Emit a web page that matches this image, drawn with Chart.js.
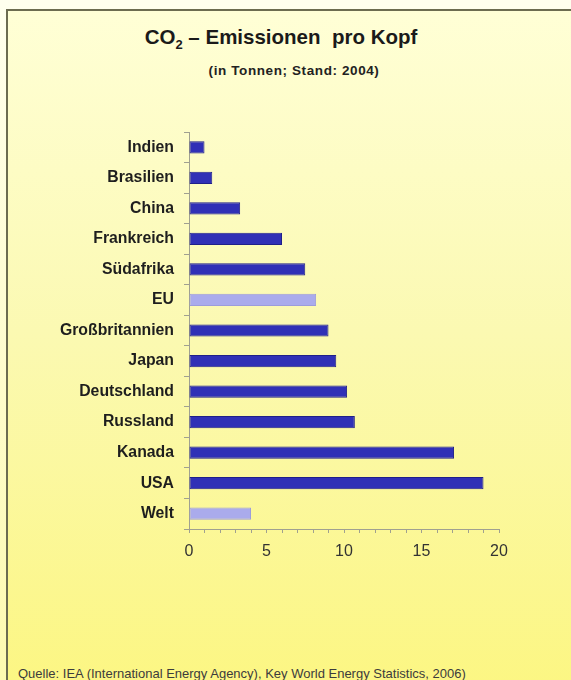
<!DOCTYPE html>
<html>
<head>
<meta charset="utf-8">
<script src="https://cdn.jsdelivr.net/npm/chart.js@4"></script>
<style>
  html, body { margin:0; padding:0; overflow:hidden; background:#ffffee; }
  #wrap { position:relative; width:571px; height:680px; overflow:hidden;
          background:linear-gradient(#ffffee, #fdfab0); font-family:Arial, "Liberation Sans", sans-serif; }
  #frame { position:absolute; left:6px; top:9px; right:-40px; bottom:-40px;
           border-left:2px solid #6c6c50; border-top:2px solid #6c6c50;
           background:linear-gradient(#ffffd6 0%, #fbf9b2 45%, #fcf67e 100%); }
  #title { position:absolute; left:0; top:27px; width:562px; text-align:center;
           font-size:20.5px; line-height:20px; font-weight:bold; color:#1a1a1a; }
  #title sub { font-size:13px; line-height:0; vertical-align:-5px; }
  #sub { position:absolute; left:0; top:64px; width:588px; text-align:center;
         font-size:13.5px; line-height:14px; font-weight:bold; color:#222; letter-spacing:0.6px; }
  #src { position:absolute; left:18px; top:667px; font-size:13px; line-height:14px; color:#3c3c3c; white-space:nowrap; }
  #Plot { position:absolute; left:0; top:0; }
</style>
</head>
<body>
<div id="wrap">
<div id="frame"></div>
<div id="title">CO<sub>2</sub> – Emissionen&nbsp; pro Kopf</div>
<div id="sub">(in Tonnen; Stand: 2004)</div>
<div id="src">Quelle: IEA (International Energy Agency), Key World Energy Statistics, 2006)</div>
<canvas id="Plot" width="571" height="680"></canvas>
</div>
<script>
// Tonnen CO2 pro Kopf, 2004
var laender = ['Indien','Brasilien','China','Frankreich','Südafrika','EU','Großbritannien',
               'Japan','Deutschland','Russland','Kanada','USA','Welt'];
var werte = [1.0, 1.5, 3.3, 6.0, 7.5, 8.2, 9.0, 9.5, 10.2, 10.7, 17.1, 19.0, 4.0];
var hervorgehoben = ['EU','Welt'];
var xMin = 0, xMax = 20, xStep = 1, labelStep = 5;

var dunkel = '#3030b6', hell = '#aaabec';
var farben = laender.map(l => hervorgehoben.includes(l) ? hell : dunkel);
var rahmen = laender.map(l => hervorgehoben.includes(l) ? '#9c9cdc' : '#1f1f8a');

var ctx = document.getElementById("Plot").getContext('2d');

var myChart = new Chart(ctx, {
  type: 'bar',
  data: {
    labels: laender,
    datasets: [{
      data: werte,
      backgroundColor: farben,
      borderColor: rahmen,
      borderWidth: 1,
      borderSkipped: false,
      barPercentage: 0.4,
      categoryPercentage: 1
    }]
  },
  options: {
    indexAxis: 'y',
    responsive: false,
    animation: false,
    layout: { padding: { left: 0, top: 132, right: 72, bottom: 121 } },
    plugins: { legend: { display: false }, tooltip: { enabled: false } },
    scales: {
      y: {
        afterFit: function(s){ s.width = 189; },
        grid: { drawOnChartArea: false, offset: true, tickLength: 5, color: '#a0a090' },
        border: { color: '#a0a090' },
        ticks: { padding: 10, color: '#1e1e1e',
                 font: { family: 'Arial, "Liberation Sans"', size: 15.8, weight: 'bold' } }
      },
      x: {
        min: xMin, max: xMax,
        afterFit: function(s){ s.height = 30; },
        grid: { drawOnChartArea: false, tickLength: 4, color: '#a0a090' },
        border: { color: '#a0a090' },
        ticks: { stepSize: xStep, autoSkip: false, maxRotation: 0, padding: 9, color: '#333',
                 font: { family: 'Arial, "Liberation Sans"', size: 16 },
                 callback: function(v){ return v % labelStep === 0 ? v : ''; } }
      }
    }
  }
});
</script>
</body>
</html>
